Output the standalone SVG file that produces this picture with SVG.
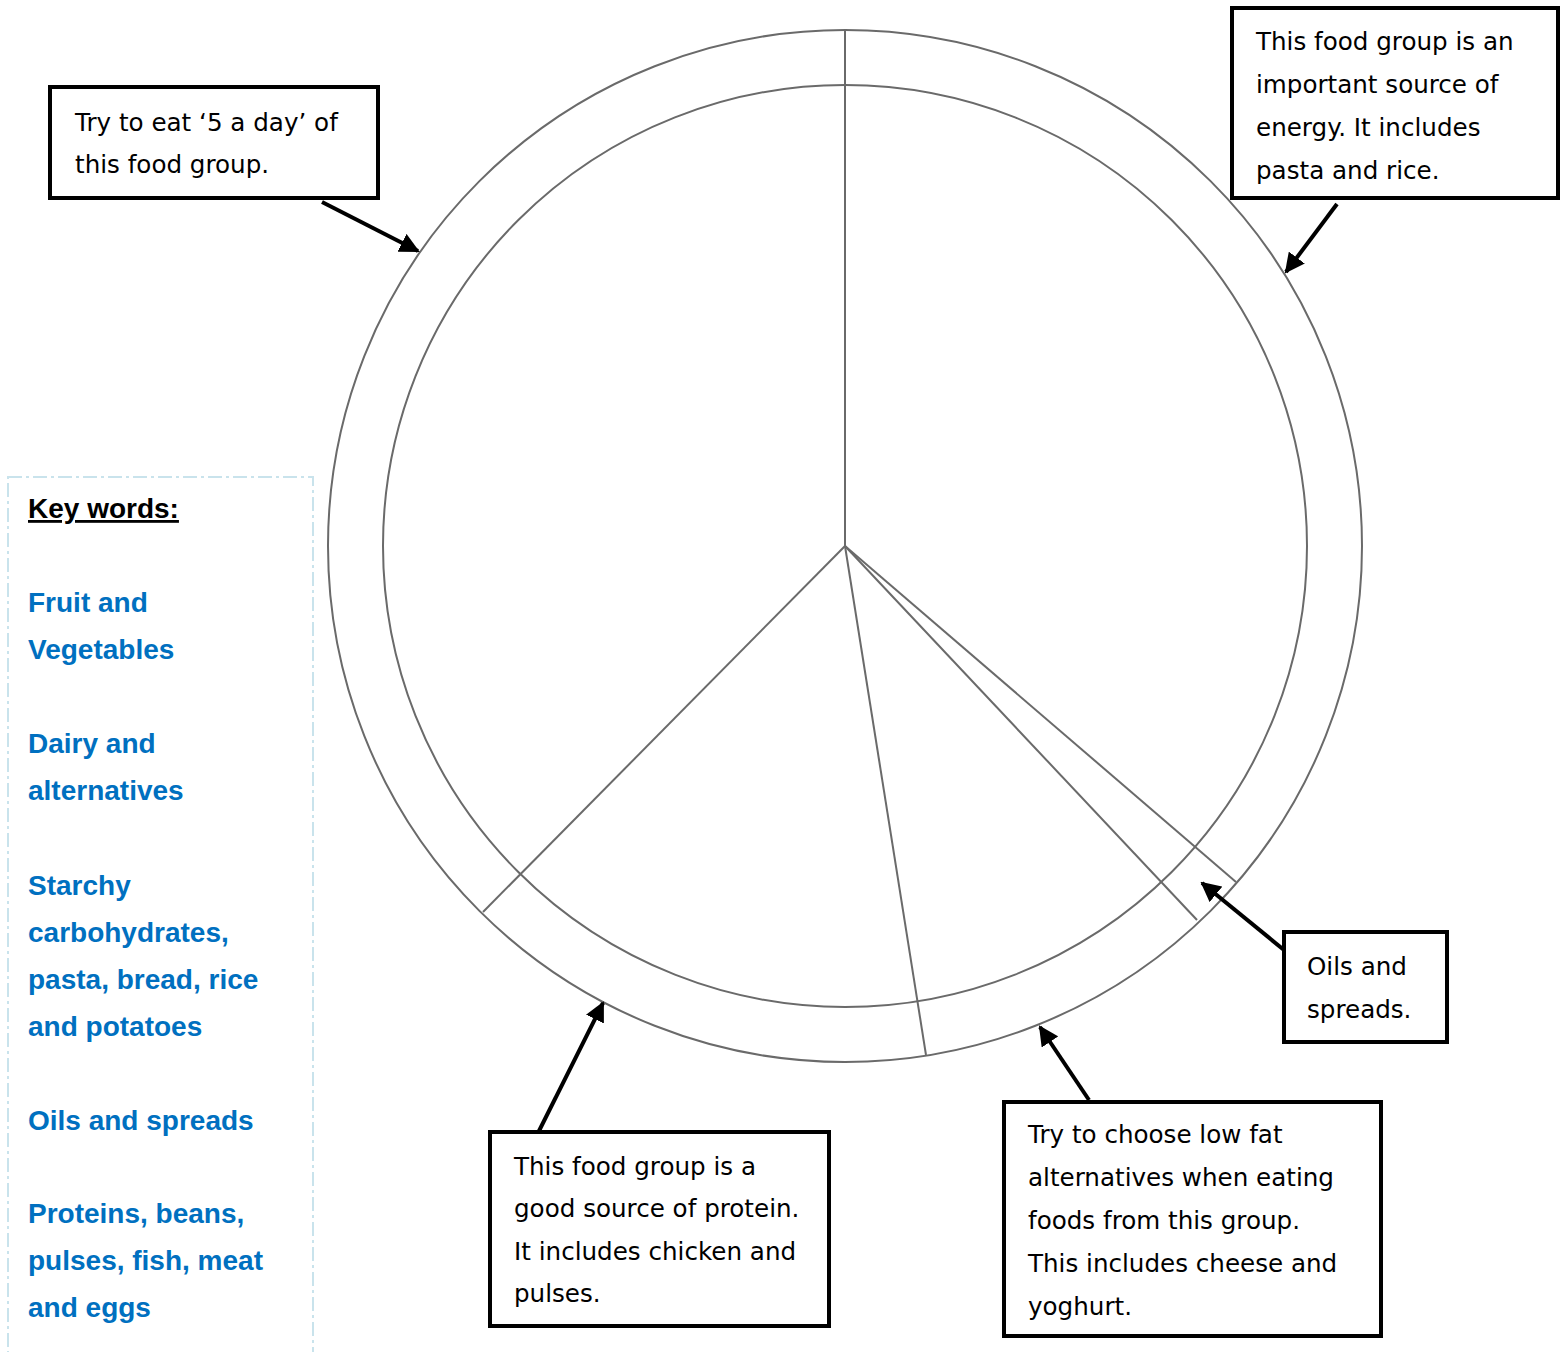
<svg xmlns="http://www.w3.org/2000/svg" width="1562" height="1352" viewBox="0 0 1562 1352">
<defs>
<marker id="ah" viewBox="0 0 10 10" refX="9" refY="5" markerWidth="5" markerHeight="5" orient="auto-start-reverse" markerUnits="strokeWidth">
<path d="M0,0 L10,5 L0,10 Z" fill="#000"/>
</marker>
<style>
.plate{fill:none;stroke:#6a6a6a;stroke-width:2}
.box{fill:#fff;stroke:#000;stroke-width:4}
.t{font-family:"DejaVu Sans","Liberation Sans",sans-serif;font-size:24.6px;fill:#000}
.k{font-family:"Liberation Sans","DejaVu Sans",sans-serif;font-size:28px;font-weight:bold;fill:#0070c0}
.arr{stroke:#000;stroke-width:4;fill:none;marker-end:url(#ah)}
</style>
</defs>
<rect width="1562" height="1352" fill="#fff"/>
<g id="plate">
<ellipse class="plate" cx="845" cy="546" rx="517" ry="516"/>
<ellipse class="plate" cx="845" cy="546" rx="462" ry="461"/>
<line class="plate" x1="845" y1="30" x2="845" y2="546"/>
<line class="plate" x1="845" y1="546" x2="483" y2="912"/>
<line class="plate" x1="845" y1="546" x2="926" y2="1055"/>
<line class="plate" x1="845" y1="546" x2="1197" y2="920"/>
<line class="plate" x1="845" y1="546" x2="1236" y2="882"/>
</g>
<g id="keywords">
<rect x="8" y="477" width="305" height="880" fill="none" stroke="#c9e3ec" stroke-width="2" stroke-dasharray="14,4,3,4"/>
<text x="28" y="518" font-family="Liberation Sans, DejaVu Sans, sans-serif" font-size="28" font-weight="bold" text-decoration="underline" fill="#000">Key words:</text>
<text class="k" x="28" y="612">Fruit and</text>
<text class="k" x="28" y="659">Vegetables</text>
<text class="k" x="28" y="753">Dairy and</text>
<text class="k" x="28" y="800">alternatives</text>
<text class="k" x="28" y="895">Starchy</text>
<text class="k" x="28" y="942">carbohydrates,</text>
<text class="k" x="28" y="989">pasta, bread, rice</text>
<text class="k" x="28" y="1036">and potatoes</text>
<text class="k" x="28" y="1130">Oils and spreads</text>
<text class="k" x="28" y="1223">Proteins, beans,</text>
<text class="k" x="28" y="1270">pulses, fish, meat</text>
<text class="k" x="28" y="1317">and eggs</text>
</g>
<g id="connectors">
<line class="arr" x1="322" y1="202" x2="418" y2="251"/>
<line class="arr" x1="1337" y1="204" x2="1286" y2="272"/>
<line class="arr" x1="1284" y1="950" x2="1202" y2="883"/>
<line class="arr" x1="1089" y1="1100" x2="1040" y2="1027"/>
<line class="arr" x1="538" y1="1133" x2="603" y2="1003"/>
</g>
<g id="box-fruit">
<rect class="box" x="50" y="87" width="328" height="111"/>
<text class="t" x="75" y="131">Try to eat ‘5 a day’ of</text>
<text class="t" x="75" y="173">this food group.</text>
</g>
<g id="box-starchy">
<rect class="box" x="1232" y="8" width="326" height="190"/>
<text class="t" x="1256" y="50">This food group is an</text>
<text class="t" x="1256" y="93">important source of</text>
<text class="t" x="1256" y="136">energy. It includes</text>
<text class="t" x="1256" y="179">pasta and rice.</text>
</g>
<g id="box-oils">
<rect class="box" x="1284" y="932" width="163" height="110"/>
<text class="t" x="1307" y="975">Oils and</text>
<text class="t" x="1307" y="1018">spreads.</text>
</g>
<g id="box-dairy">
<rect class="box" x="1004" y="1102" width="377" height="234"/>
<text class="t" x="1028" y="1143">Try to choose low fat</text>
<text class="t" x="1028" y="1186">alternatives when eating</text>
<text class="t" x="1028" y="1229">foods from this group.</text>
<text class="t" x="1028" y="1272">This includes cheese and</text>
<text class="t" x="1028" y="1315">yoghurt.</text>
</g>
<g id="box-protein">
<rect class="box" x="490" y="1132" width="339" height="194"/>
<text class="t" x="514" y="1175">This food group is a</text>
<text class="t" x="514" y="1217">good source of protein.</text>
<text class="t" x="514" y="1260">It includes chicken and</text>
<text class="t" x="514" y="1302">pulses.</text>
</g>
</svg>
